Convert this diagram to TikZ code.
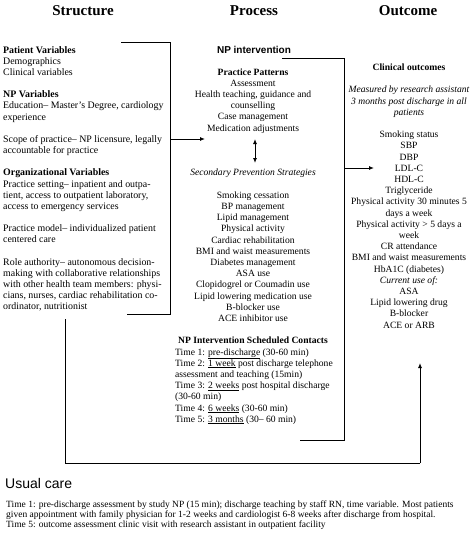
\documentclass[tikz,border=0pt]{standalone}
\usepackage{fontspec}
\setmainfont{Liberation Serif}
\setsansfont{Liberation Sans}
\usetikzlibrary{arrows.meta}
\begin{document}
\begin{tikzpicture}[x=1pt,y=-1pt,
  txt/.style={font=\fontsize{9.6}{11.2}\selectfont, inner sep=0pt},
  stxt/.style={font=\fontsize{9.9}{11.2}\selectfont, inner sep=0pt, anchor=base west},
  lft/.style={txt, anchor=base west},
  ctr/.style={txt, anchor=base},
  ttl/.style={font=\fontsize{15}{18}\selectfont\bfseries, inner sep=0pt, anchor=base},
  note/.style={font=\fontsize{9.5}{10}\selectfont, inner sep=0pt, anchor=base west},
  ln/.style={line width=0.9pt},
  arr/.style={ln, -{Latex[length=5pt,width=4pt]}},
  darr/.style={ln, {Latex[length=5pt,width=4pt]}-{Latex[length=5pt,width=4pt]}},
]
\useasboundingbox (0,0) rectangle (474,538);
\fill[white] (0,0) rectangle (474,538);

% titles
\node[ttl] (tS) at (83,15) {Structure};
\node[ttl] (tP) at (254,15) {Process};
\node[ttl] (tO) at (408,15) {Outcome};

% Structure column
\foreach \k/\t [count=\i] in {
  0/{\textbf{Patient Variables}},
  1/{Demographics},
  2/{Clinical variables},
  4/{\textbf{NP Variables}},
  5/{Education– Master's Degree, cardiology},
  6/{experience},
  8/{Scope of practice– NP licensure, legally},
  9/{accountable for practice},
  11/{\textbf{Organizational Variables}},
  12/{Practice setting– inpatient and outpa-},
  13/{tient, access to outpatient laboratory,},
  14/{access to emergency services},
  16/{Practice model– individualized patient},
  17/{centered care},
  19/{Role authority– autonomous decision-},
  20/{making with collaborative relationships},
  21/{with other health team members: physi-},
  22/{cians, nurses, cardiac rehabilitation co-},
  23/{ordinator, nutritionist}}
  \node[stxt] (s\i) at (3,53+11.17*\k) {\t};

% Process column
\node[font=\fontsize{10}{12}\selectfont\sffamily\bfseries, inner sep=0pt, anchor=base] (npi) at (254,53) {NP intervention};
\foreach \k/\t [count=\i] in {
  0/{\textbf{Practice Patterns}},
  1/{Assessment},
  2/{Health teaching, guidance and},
  3/{counselling},
  4/{Case management},
  5/{Medication adjustments},
  9/{\textit{Secondary Prevention Strategies}},
  11/{Smoking cessation},
  12/{BP management},
  13/{Lipid management},
  14/{Physical activity},
  15/{Cardiac rehabilitation},
  16/{BMI and waist measurements},
  17/{Diabetes management},
  18/{ASA use},
  19/{Clopidogrel or Coumadin use},
  20/{Lipid lowering medication use},
  21/{B-blocker use},
  22/{ACE inhibitor use},
  24/{\textbf{NP Intervention Scheduled Contacts}}}
  \node[ctr] (p\i) at (253,75+11.2*\k) {\t};
\foreach \k/\t [count=\i] in {
  25/{Time 1: \underline{pre-discharge} (30-60 min)},
  26/{Time 2: \underline{1 week} post discharge telephone},
  27/{assessment and teaching (15min)},
  28/{Time 3: \underline{2 weeks} post hospital discharge},
  29/{(30-60 min)},
  30/{Time 4: \underline{6 weeks} (30-60 min)},
  31/{Time 5: \underline{3 months} (30– 60 min)}}
  \node[lft] (t\i) at (175,75+11.2*\k) {\t};

% Outcome column
\foreach \k/\t [count=\i] in {
  0/{\textbf{Clinical outcomes}},
  2/{\textit{Measured by research assistant}},
  3/{\textit{3 months post discharge in all}},
  4/{\textit{patients}},
  6/{Smoking status},
  7/{SBP},
  8/{DBP},
  9/{LDL-C},
  10/{HDL-C},
  11/{Triglyceride},
  12/{Physical activity 30 minutes 5},
  13/{days a week},
  14/{Physical activity > 5 days a},
  15/{week},
  16/{CR attendance},
  17/{BMI and waist measurements},
  18/{HbA1C (diabetes)},
  19/{\textit{Current use of:}},
  20/{ASA},
  21/{Lipid lowering drug},
  22/{B-blocker},
  23/{ACE or ARB}}
  \node[ctr] (o\i) at (409,70.4+11.2*\k) {\t};

% Usual care
\node[font=\fontsize{14}{16}\selectfont\sffamily, inner sep=0pt, anchor=base west] (uc) at (5,488) {Usual care};
\node[note] (u1) at (6,507) {Time 1: pre-discharge assessment by study NP (15 min); discharge teaching by staff RN, time variable. Most patients};
\node[note] (u2) at (6,517) {given appointment with family physician for 1-2 weeks and cardiologist 6-8 weeks after discharge from hospital.};
\node[note] (u3) at (6,527) {Time 5: outcome assessment clinic visit with research assistant in outpatient facility};

% Structure bracket
\coordinate (sA) at (121,42);
\coordinate (sB) at (170,42);
\coordinate (sC) at (170,314);
\coordinate (sD) at (127,314);
\coordinate (sM) at (170,139);
\coordinate (pIn) at (205,139);
\draw[ln] (sA) -- (sB) -- (sC) -- (sD);
\draw[arr] (sM) -- (pIn);

% Process bracket
\coordinate (pA) at (282,58);
\coordinate (pB) at (344,58);
\coordinate (pC) at (344,440);
\coordinate (pD) at (300,440);
\coordinate (pM) at (344,168);
\coordinate (oIn) at (374,168);
\draw[ln] (pA) -- (pB) -- (pC) -- (pD);
\draw[arr] (pM) -- (oIn);

% double arrow
\coordinate (dA) at (255,139);
\coordinate (dB) at (255,163);
\draw[darr] (dA) -- (dB);

% structure to outcome loop
\coordinate (lA) at (65,319);
\coordinate (lB) at (65,463);
\coordinate (lC) at (420,463);
\coordinate (lD) at (420,363);
\draw[ln] (lA) -- (lB) -- (lC);
\draw[arr] (lC) -- (lD);
\end{tikzpicture}
\end{document}
